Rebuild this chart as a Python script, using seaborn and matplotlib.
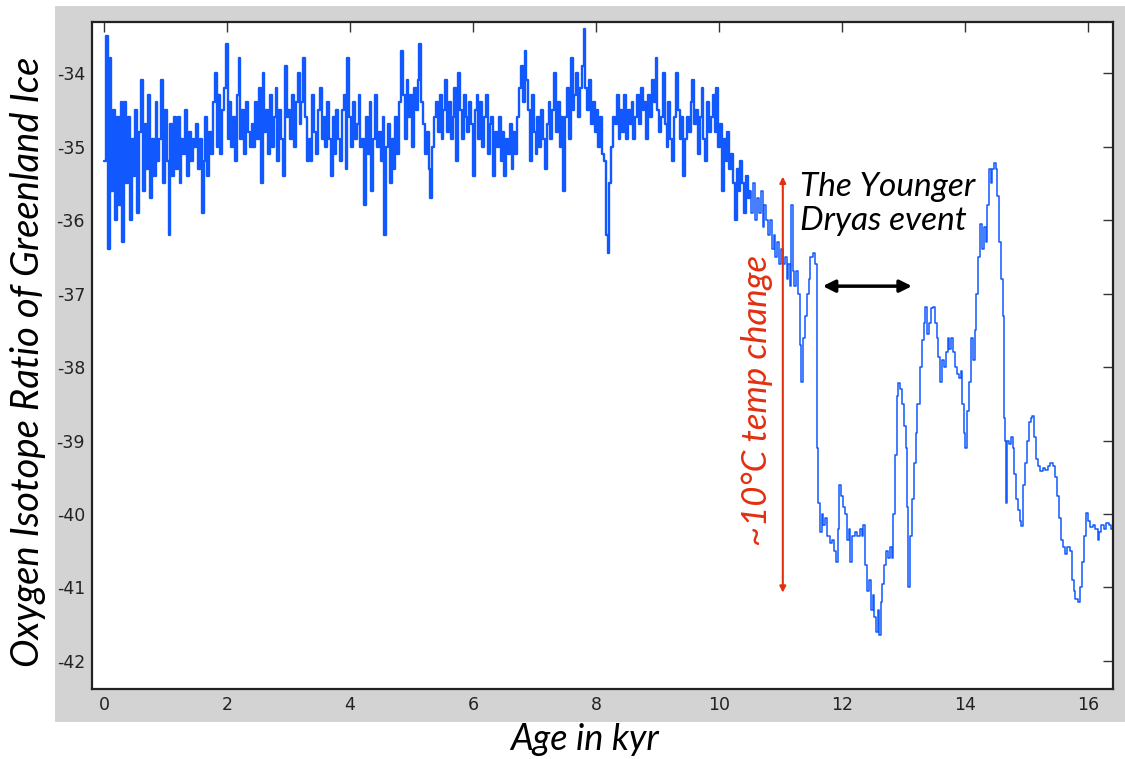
import numpy as np
import pandas as pd
import matplotlib
matplotlib.use("Agg")
import matplotlib.pyplot as plt
from matplotlib.patches import Rectangle
import seaborn as sns

# ---------------- data ----------------
# Holocene part: evenly sampled record (start, step) with hand-read values
dense_start = 0.0
dense_step = 0.03
dense_vals = [
    -35.2, -33.5, -36.4, -33.8, -35.6, -34.5, -36.0, -34.6, -35.8, -34.4,
    -36.3, -34.4, -35.5, -34.6, -36.0, -34.9, -35.4, -34.5, -35.9, -34.8,
    -34.1, -35.6, -34.7, -35.3, -34.3, -35.7, -34.9, -35.4, -34.4, -35.2,
    -34.9, -34.1, -35.5, -34.5, -35.2, -36.2, -34.7, -35.4, -34.6, -35.3,
    -34.6, -35.5, -34.9, -35.1, -34.5, -35.4, -34.8, -35.2, -34.9, -35.0,
    -34.7, -35.3, -34.9, -35.9, -35.2, -34.6, -35.4, -34.8, -35.1, -34.4,
    -34.0, -35.0, -34.3, -35.1, -34.5, -34.2, -33.6, -34.9, -34.4, -35.0,
    -34.6, -35.2, -34.3, -33.8, -34.9, -34.5, -35.1, -34.4, -34.8, -35.0,
    -34.7, -35.0, -34.4, -34.9, -34.2, -35.5, -34.0, -34.8, -34.5, -35.1,
    -34.3, -35.0, -34.6, -34.2, -35.2, -34.5, -34.9, -35.4, -33.9, -34.6,
    -34.5, -34.9, -34.3, -35.0, -34.4, -34.0, -34.7, -34.4, -33.8, -34.6,
    -35.2, -34.9, -35.2, -34.3, -34.8, -35.1, -34.5, -34.2, -34.9, -34.6,
    -35.0, -34.4, -34.9, -35.4, -34.6, -35.1, -34.5, -34.9, -35.2, -34.5,
    -34.3, -35.3, -33.8, -34.6, -35.0, -34.4, -34.9, -34.7, -34.3, -35.0,
    -34.9, -35.8, -34.6, -35.1, -34.4, -35.6, -34.9, -34.3, -35.0, -34.8,
    -35.2, -34.6, -36.2, -35.0, -34.7, -35.5, -34.9, -35.3, -34.6, -35.1,
    -34.4, -33.7, -34.3, -34.9, -34.1, -34.6, -34.3, -35.0, -34.2, -34.5,
    -34.1, -33.6, -34.4, -34.7, -35.1, -34.8, -35.3, -35.7, -35.0, -34.6,
    -34.4, -34.8, -34.3, -34.9, -34.5, -34.1, -34.8, -34.4, -34.9, -34.6,
    -34.2, -35.2, -34.0, -34.5, -34.9, -34.3, -34.6, -34.8, -34.4, -34.7,
    -35.4, -34.5, -34.3, -34.9, -34.4, -35.0, -34.6, -34.3, -35.1, -34.7,
    -34.6, -35.4, -34.8, -35.0, -34.6, -35.2, -34.8, -35.4, -34.9, -35.1,
    -34.7, -35.3, -34.8, -35.1, -34.6, -34.2, -33.9, -34.4, -33.7, -34.1,
    -34.5, -35.2, -34.3, -34.8, -35.1, -34.6, -35.0, -34.5, -34.9, -35.3,
    -34.7, -34.4, -34.9, -34.5, -34.0, -34.8, -34.4, -35.0, -34.6, -35.6,
    -34.6, -34.2, -34.9, -33.8, -34.5, -34.3, -34.0, -34.6, -34.2, -33.9,
    -33.4, -34.2, -34.5, -34.1, -34.7, -34.4, -34.8, -34.5, -35.0, -34.6,
    -35.1, -35.2, -36.2, -36.45, -35.5, -35.0, -34.6, -34.7, -34.3, -34.9,
    -34.5, -34.8, -34.3, -34.9, -34.5, -34.7, -34.4, -34.9, -34.6, -34.3,
    -34.7, -34.2, -34.5, -34.4, -34.9, -34.3, -34.6, -34.1, -34.4, -33.8,
    -34.5, -34.8, -34.6, -34.0, -34.7, -35.0, -34.4, -34.9, -35.2, -34.6,
    -34.0, -34.5, -34.9, -34.6, -35.4, -34.9, -34.6, -34.8, -34.4, -34.1,
    -34.7, -34.5, -35.1, -34.6, -34.2, -34.9, -35.2, -34.4, -34.8, -34.6,
    -34.3, -34.8, -34.2, -35.0, -34.7, -35.6, -34.9, -35.2, -34.8, -35.3,
    -35.1, -35.5, -36.0, -35.3, -35.6, -35.2, -35.5, -35.9, -35.4, -35.7,
]

# Deglacial part: irregular ages (kyr) and values
late_ages = [
    10.50, 10.53, 10.56, 10.59, 10.62, 10.65, 10.68, 10.71, 10.74, 10.77,
    10.80, 10.83, 10.86, 10.89, 10.92, 10.95, 10.98, 11.01, 11.04, 11.07,
    11.10, 11.13, 11.16, 11.18, 11.20, 11.23, 11.26, 11.29, 11.32, 11.34,
    11.37, 11.40, 11.43, 11.46, 11.49, 11.53, 11.56, 11.59, 11.60, 11.62,
    11.65, 11.67, 11.70, 11.73, 11.76, 11.80, 11.84, 11.88, 11.91, 11.94,
    11.96, 11.99, 12.02, 12.05, 12.08, 12.11, 12.14, 12.17, 12.21, 12.25,
    12.29, 12.33, 12.35, 12.38, 12.41, 12.44, 12.47, 12.50, 12.53, 12.56,
    12.59, 12.61, 12.63, 12.66, 12.69, 12.72, 12.75, 12.78, 12.81, 12.84,
    12.87, 12.89, 12.92, 12.95, 12.98, 13.01, 13.04, 13.06, 13.08, 13.11,
    13.14, 13.17, 13.20, 13.23, 13.27, 13.30, 13.33, 13.36, 13.39, 13.42,
    13.45, 13.48, 13.51, 13.54, 13.57, 13.60, 13.63, 13.66, 13.69, 13.72,
    13.75, 13.78, 13.81, 13.84, 13.87, 13.90, 13.93, 13.96, 13.99, 14.01,
    14.04, 14.07, 14.10, 14.13, 14.16, 14.19, 14.22, 14.25, 14.28, 14.31,
    14.34, 14.36, 14.39, 14.42, 14.45, 14.47, 14.50, 14.53, 14.56, 14.59,
    14.62, 14.64, 14.66, 14.67, 14.69, 14.72, 14.75, 14.78, 14.80, 14.83,
    14.86, 14.89, 14.92, 14.95, 14.98, 15.01, 15.04, 15.07, 15.10, 15.13,
    15.16, 15.19, 15.23, 15.27, 15.31, 15.35, 15.39, 15.43, 15.47, 15.50,
    15.53, 15.56, 15.59, 15.63, 15.67, 15.71, 15.74, 15.77, 15.80, 15.84,
    15.88, 15.91, 15.94, 15.97, 16.00, 16.04, 16.08, 16.12, 16.16, 16.19,
    16.22, 16.26, 16.30, 16.34, 16.38, 16.41, 16.45,
]
late_vals = [
    -35.6, -35.9, -35.5, -36.0, -35.7, -35.9, -35.6, -36.1, -35.8, -36.0,
    -36.2, -36.0, -36.4, -36.2, -36.5, -36.3, -36.6, -36.4, -36.6, -36.5,
    -36.8, -36.6, -36.9, -35.8, -36.7, -36.9, -36.7, -37.0, -37.7, -38.2,
    -37.6, -37.3, -37.0, -36.8, -36.5, -36.45, -36.6, -37.6, -39.1, -39.85,
    -40.25, -40.0, -40.15, -40.05, -40.3, -40.4, -40.35, -40.5, -40.65, -40.2,
    -39.6, -39.75, -39.9, -40.0, -40.35, -40.2, -40.65, -40.3, -40.25, -40.3,
    -40.2, -40.3, -40.15, -40.7, -41.05, -40.9, -41.3, -41.1, -41.4, -41.6,
    -41.3, -41.65, -41.2, -40.95, -40.7, -40.5, -40.6, -40.45, -40.6, -40.0,
    -39.2, -38.4, -38.22, -38.3, -38.5, -38.8, -39.1, -39.9, -41.0, -40.3,
    -39.8, -39.3, -38.9, -38.5, -38.0, -37.63, -37.4, -37.18, -37.55, -37.4,
    -37.2, -37.18, -37.4, -37.6, -37.86, -38.2, -37.9, -38.0, -37.8, -37.6,
    -37.75, -37.6, -37.8, -38.0, -38.1, -38.15, -38.05, -38.5, -38.9, -39.1,
    -38.6, -38.2, -37.6, -37.9, -37.5, -37.0, -36.5, -36.05, -36.4, -36.1,
    -36.3, -35.8, -35.3, -35.5, -35.3, -35.22, -35.3, -35.67, -36.3, -36.8,
    -37.3, -38.7, -39.0, -39.85, -39.0, -39.05, -38.95, -39.1, -39.45, -39.8,
    -39.95, -40.1, -40.17, -39.6, -39.3, -39.0, -38.75, -38.7, -38.67, -38.95,
    -39.25, -39.35, -39.42, -39.38, -39.4, -39.35, -39.3, -39.35, -39.5, -39.75,
    -40.05, -40.35, -40.45, -40.55, -40.45, -40.5, -40.9, -41.05, -41.15, -41.2,
    -41.0, -40.65, -40.3, -39.99, -40.1, -40.18, -40.15, -40.2, -40.36, -40.25,
    -40.15, -40.2, -40.12, -40.15, -40.2, -40.67, -40.7,
]

x_ticks = [0, 2, 4, 6, 8, 10, 12, 14, 16]
y_ticks = [-42, -41, -40, -39, -38, -37, -36, -35, -34]

x_label = "Age in kyr"
y_label = "Oxygen Isotope Ratio of Greenland Ice"
temp_text = "~10°C temp change"
yd_text = "The Younger\nDryas event"

dense_ages = dense_start + dense_step * np.arange(len(dense_vals))
df_dense = pd.DataFrame({
    "age": np.append(dense_ages, late_ages[0]),
    "d18O": np.append(np.array(dense_vals), late_vals[0]),
})
df_late = pd.DataFrame({"age": late_ages, "d18O": late_vals})

# ---------------- style ----------------
sns.set_style("white")
plt.rcParams["font.family"] = ["Liberation Sans Narrow", "DejaVu Sans"]
plt.rcParams["axes.unicode_minus"] = False

W, H = 1125, 759
fig = plt.figure(figsize=(W / 100, H / 100), dpi=100, facecolor="white")

# grey frame behind the axes
fig.patches.append(Rectangle((55 / W, 1 - 722 / H), (W - 55) / W, (722 - 6) / H,
                             transform=fig.transFigure, facecolor="#d3d3d3",
                             edgecolor="none", zorder=-10))

ax = fig.add_axes([92 / W, 1 - 689 / H, (1113 - 92) / W, (689 - 22) / H])
ax.set_zorder(1)
ax.set_facecolor("white")

blue = "#1158ff"
sns.lineplot(data=df_dense, x="age", y="d18O", ax=ax, estimator=None, sort=True,
             color=blue, linewidth=1.7, drawstyle="steps-post")
sns.lineplot(data=df_late, x="age", y="d18O", ax=ax, estimator=None, sort=True,
             color=blue, linewidth=1.1, drawstyle="steps-post")

ax.set_xlim(-0.195, 16.41)
ax.set_ylim(-42.381, -33.306)
ax.set_xticks(x_ticks)
ax.set_yticks(y_ticks)
ax.set_xticklabels([str(t) for t in x_ticks])
ax.set_yticklabels([str(t) for t in y_ticks])
ax.tick_params(direction="in", length=7.5, width=1.0, color="#333333",
               top=True, right=True, labelsize=12.5, labelcolor="#222222", pad=5)
for s in ax.spines.values():
    s.set_visible(True)
    s.set_linewidth(1.6)
    s.set_color("#222222")
ax.set_xlabel("")
ax.set_ylabel("")

hum = ["Lato", "DejaVu Sans"]
fig.text(28 / W, 1 - 362 / H, y_label, rotation=90, ha="center", va="center",
         fontsize=27.5, style="italic", family=hum, color="black")
fig.text(585 / W, 1 - 740 / H, x_label, ha="center", va="center",
         fontsize=26, style="italic", family=hum, color="black")

red = "#e2300f"
ax.annotate("", xy=(11.04, -41.07), xytext=(11.04, -35.41),
            arrowprops=dict(arrowstyle="<|-|>", color=red, lw=1.5,
                            mutation_scale=9, shrinkA=0, shrinkB=0))
ax.text(10.62, -38.45, temp_text, rotation=90, ha="center", va="center",
        fontsize=25, style="italic", family=hum, color=red)

ax.text(11.32, -35.35, yd_text, ha="left", va="top", fontsize=24,
        style="italic", family=hum, color="black", linespacing=1.15)
ax.annotate("", xy=(13.14, -36.9), xytext=(11.69, -36.9),
            arrowprops=dict(arrowstyle="<|-|>", color="black", lw=2.5,
                            mutation_scale=18, shrinkA=0, shrinkB=0))

fig.savefig("out.png", dpi=100, facecolor="white")
